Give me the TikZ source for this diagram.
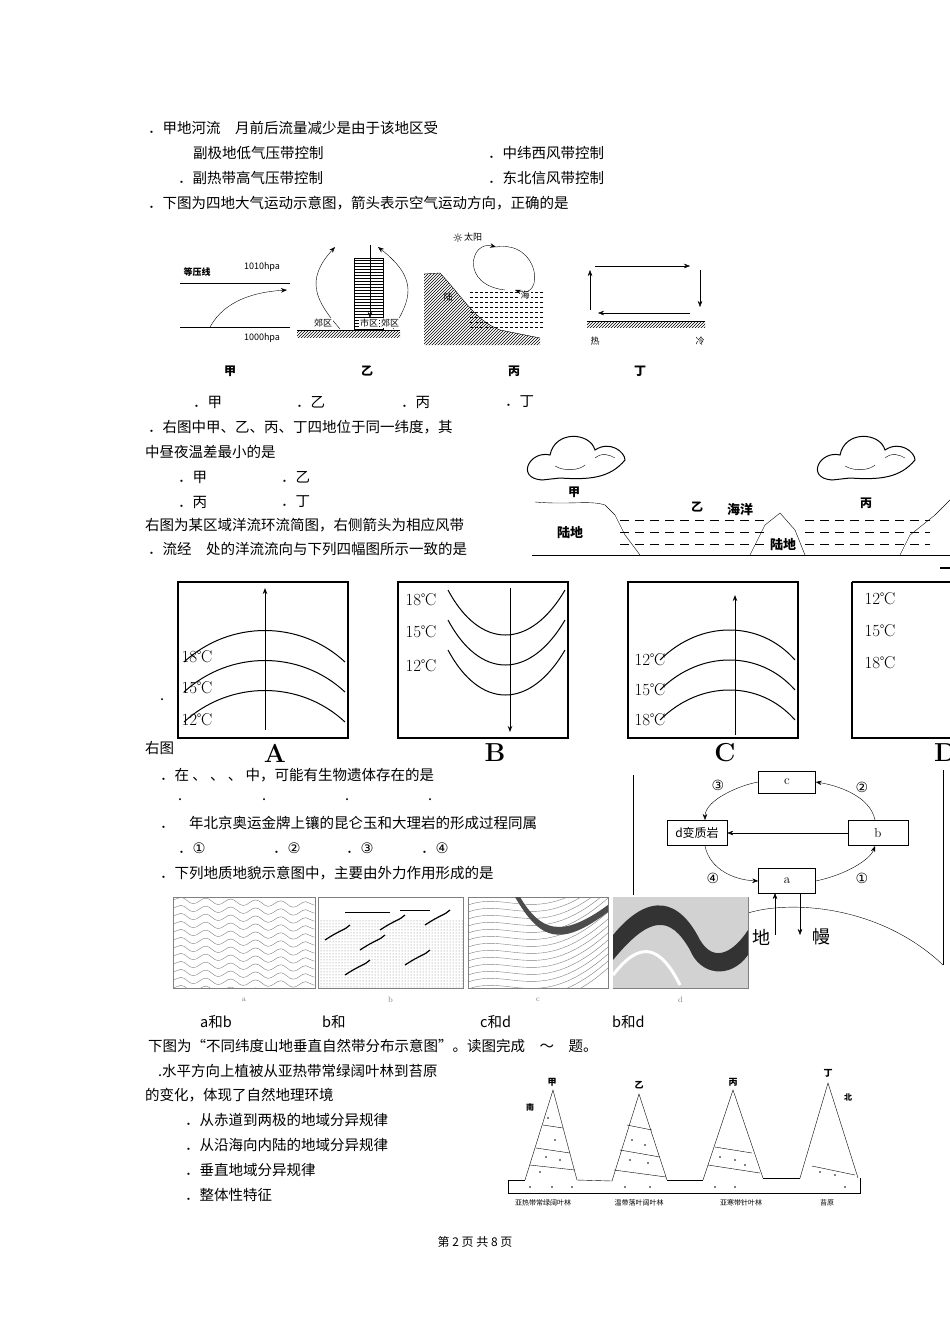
\documentclass[tikz,border=0pt]{standalone}
\usepackage{fontspec}
\newfontfamily\cjk{Noto Sans CJK SC}
\newfontfamily\djv{DejaVu Sans}
\usetikzlibrary{patterns,arrows.meta,decorations.pathmorphing}
\begin{document}
\begin{tikzpicture}[x=1pt,y=-1pt,
  tx/.style={anchor=west,inner sep=0pt,font=\cjk\fontsize{14.5}{16}\selectfont},
  sm/.style={inner sep=0pt,font=\cjk\fontsize{9}{10}\selectfont},
  lab/.style={inner sep=0pt,font=\cjk\bfseries\fontsize{12}{13}\selectfont},
  frame/.style={draw,line width=1.6pt},
  ar/.style={-{Stealth[length=6pt]}},
  circ/.style={inner sep=0pt,font=\djv\fontsize{14}{16}\selectfont},
  deg/.style={inner sep=0pt,font=\fontsize{17}{18}\selectfont}]
\useasboundingbox[fill=white] (0,0) rectangle (950,1344);
% ---- text lines
\node[tx] (l1) at (148,128) {．甲地河流\quad 月前后流量减少是由于该地区受};
\node[tx] (l2) at (193,153) {副极地低气压带控制};
\node[tx] (l2b) at (488,153) {．中纬西风带控制};
\node[tx] (l3) at (178,178) {．副热带高气压带控制};
\node[tx] (l3b) at (488,178) {．东北信风带控制};
\node[tx] (l4) at (148,203) {．下图为四地大气运动示意图，箭头表示空气运动方向，正确的是};
\node[tx] (o1) at (193,402) {．甲};
\node[tx] (o2) at (296,402) {．乙};
\node[tx] (o3) at (401,402) {．丙};
\node[tx] (o4) at (505,402) {．丁};
\node[tx] (l5) at (148,427) {．右图中甲、乙、丙、丁四地位于同一纬度，其};
\node[tx] (l6) at (145,452) {中昼夜温差最小的是};
\node[tx] (p1) at (178,477) {．甲};
\node[tx] (p2) at (281,477) {．乙};
\node[tx] (p3) at (178,502) {．丙};
\node[tx] (p4) at (281,502) {．丁};
\node[tx] (l7) at (145,525) {右图为某区域洋流环流简图，右侧箭头为相应风带};
\node[tx] (l8) at (148,549) {．流经\quad 处的洋流流向与下列四幅图所示一致的是};
\node[tx] (l9) at (160,700) {.};
\node[tx] (l10) at (145,748) {右图};
\node[tx] (l11) at (160,775) {．在\ 、\ 、\ 、\ 中，可能有生物遗体存在的是};
\node[tx] (q1) at (178,800) {.}; \node[tx] (q2) at (262,800) {.};
\node[tx] (q3) at (345,800) {.}; \node[tx] (q4) at (428,800) {.};
\node[tx] (l12) at (160,823) {．\quad 年北京奥运金牌上镶的昆仑玉和大理岩的形成过程同属};
\node[tx] (r1) at (178,848) {．\djv ①}; \node[tx] (r2) at (273,848) {．\djv ②};
\node[tx] (r3) at (346,848) {．\djv ③}; \node[tx] (r4) at (421,848) {．\djv ④};
\node[tx] (l13) at (160,873) {．下列地质地貌示意图中，主要由外力作用形成的是};
\node[tx] (s1) at (200,1022) {a和b}; \node[tx] (s2) at (322,1022) {b和};
\node[tx] (s3) at (480,1022) {c和d}; \node[tx] (s4) at (612,1022) {b和d};
\node[tx] (l14) at (148,1046) {下图为“不同纬度山地垂直自然带分布示意图”。读图完成\quad ～\quad 题。};
\node[tx] (l15) at (158,1071) {.水平方向上植被从亚热带常绿阔叶林到苔原};
\node[tx] (l16) at (145,1095) {的变化，体现了自然地理环境};
\node[tx] (u1) at (185,1120) {．从赤道到两极的地域分异规律};
\node[tx] (u2) at (185,1145) {．从沿海向内陆的地域分异规律};
\node[tx] (u3) at (185,1170) {．垂直地域分异规律};
\node[tx] (u4) at (185,1195) {．整体性特征};
\node[inner sep=0pt,font=\cjk\fontsize{12}{13}\selectfont] (pg) at (475,1242) {第 2 页 共 8 页};
% ---- 甲 diagram
\draw (180,283) -- (290,283); \draw (180,327) -- (290,327);
\node[sm,font=\cjk\bfseries\fontsize{9}{10}\selectfont] (a1) at (197,272) {等压线};
\node[sm] (a2) at (262,267) {1010hpa};
\node[sm] (a3) at (262,338) {1000hpa};
\coordinate (a4) at (210,327); \coordinate (a5) at (287,290);
\draw[ar] (a4) .. controls (225,300) and (255,292) .. (a5);
\node[lab] (jia) at (230,371) {甲};
% ---- 乙
\draw[pattern=horizontal lines] (354,258) rectangle (383,330);
\fill[pattern=north east lines] (297,330) rectangle (400,337);
\draw (297,330) -- (400,330);
\coordinate (b1) at (370,245); \coordinate (b2) at (370,318);
\draw[ar] (b1) -- (b2);
\coordinate (b3) at (340,329); \coordinate (b4) at (335,247);
\draw[ar] (b3) .. controls (315,300) and (305,280) .. (b4);
\coordinate (b5) at (393,329); \coordinate (b6) at (378,247);
\draw[ar] (b5) .. controls (410,300) and (420,280) .. (b6);
\node[sm,fill=white,inner sep=1pt] (b7) at (323,323) {郊区};
\node[sm,fill=white,inner sep=1pt] (b8) at (369,323) {市区};
\node[sm,fill=white,inner sep=1pt] (b9) at (390,323) {郊区};
\node[lab] (yi) at (367,371) {乙};
% ---- 丙
\fill[pattern=north east lines] (424,274) -- (440,273) .. controls (465,300) and (475,320) .. (500,330) -- (540,338) -- (540,345) -- (424,345) -- cycle;
\draw (424,274) -- (440,273) .. controls (465,300) and (475,320) .. (500,330) -- (540,338);
\foreach \yy in {292,297,302,307,312,317,322,327}{\draw[densely dashed,line width=0.4pt] (470,\yy) -- (543,\yy);}
\node[inner sep=0pt,font=\djv\fontsize{12}{12}\selectfont] (c1) at (458,238) {☼};
\node[sm] (c2) at (473,237) {太阳};
\node[sm] (c3) at (448,297) {陆};
\node[sm,fill=white,inner sep=1pt] (c4) at (525,295) {海};
\coordinate (c5) at (515,290); \coordinate (c6) at (496,247);
\draw[ar] (c6) .. controls (540,240) and (545,300) .. (c5);
\draw[ar] (505,290) .. controls (460,285) and (470,240) .. (c6);
\node[lab] (bing) at (514,371) {丙};
% ---- 丁
\draw[ar] (595,266) -- (690,266);
\draw[ar] (700,270) -- (700,307);
\draw[ar] (690,313) -- (598,313);
\draw[ar] (590,310) -- (590,270);
\draw (587,321) -- (705,321);
\fill[pattern=north east lines] (587,321) rectangle (705,327);
\node[sm] (d1) at (595,341) {热}; \node[sm] (d2) at (700,341) {冷};
\node[lab] (ding) at (640,371) {丁};
% ---- ocean profile
\foreach \cx in {530,820}{
 \draw[line width=1pt] (\cx+12,480) .. controls (\cx-15,478) and (\cx+0,450) .. (\cx+20,455) .. controls (\cx+25,430) and (\cx+60,432) .. (\cx+65,450) .. controls (\cx+80,440) and (\cx+95,452) .. (\cx+95,460) .. controls (\cx+80,478) and (\cx+60,480) .. (\cx+30,478) -- cycle;
 \draw (\cx+25,466) .. controls (\cx+35,472) and (\cx+50,470) .. (\cx+55,465);
 \draw (\cx+65,458) .. controls (\cx+72,452) and (\cx+80,455) .. (\cx+85,458);}
\draw (532,555) -- (950,555);
\draw (535,502) .. controls (570,505) and (590,500) .. (605,505) -- (615,515) -- (625,535) -- (640,555);
\draw (750,555) -- (765,525) -- (780,513) -- (795,530) -- (805,555);
\draw (900,555) -- (910,535) -- (935,515) -- (950,500);
\foreach \yy in {520,532,544}{\draw[dash pattern=on 9pt off 6pt,line width=0.8pt] (620,\yy) -- (770,\yy); \draw[dash pattern=on 9pt off 6pt,line width=0.8pt] (805,\yy) -- (930,\yy);}
\node[lab] (e1) at (574,492) {甲};
\node[lab] (e2) at (697,507) {乙};
\node[lab,font=\cjk\bfseries\fontsize{13}{14}\selectfont] (e3) at (740,510) {海洋};
\node[lab] (e4) at (866,503) {丙};
\node[lab,font=\cjk\bfseries\fontsize{13}{14}\selectfont] (e5) at (570,533) {陆地};
\node[lab,font=\cjk\bfseries\fontsize{13}{14}\selectfont] (e6) at (783,545) {陆地};
% ---- isotherm boxes
\foreach \bx/\nm in {178/A,398/B,628/C}{
 \draw[frame] (\bx,582) rectangle (\bx+170,738);
 \node[inner sep=0pt,font=\bfseries\fontsize{26}{28}\selectfont] (L\nm) at (\bx+97,753) {\nm};}
\draw[frame] (852,582) -- (950,582) (852,582) -- (852,738) -- (950,738);
\node[anchor=west,inner sep=0pt,font=\bfseries\fontsize{26}{28}\selectfont] (LD) at (934,753) {D};
\foreach \dy in {0,30,60}{\draw[line width=1pt] (184,662+\dy) .. controls (230,620+\dy) and (300,620+\dy) .. (345,662+\dy);}
\draw[ar,line width=1pt] (265,730) -- (265,588);
\node[deg] (A1) at (197,657) {18℃}; \node[deg] (A2) at (197,688) {15℃}; \node[deg] (A3) at (197,720) {12℃};
\foreach \dy in {0,30,60}{\draw[line width=1pt] (448,590+\dy) .. controls (480,650+\dy) and (530,650+\dy) .. (565,590+\dy);}
\draw[ar,line width=1pt] (510,588) -- (510,732);
\node[deg] (B1) at (421,600) {18℃}; \node[deg] (B2) at (421,632) {15℃}; \node[deg] (B3) at (421,666) {12℃};
\foreach \dy in {0,30,60}{\draw[line width=1pt] (660,660+\dy) .. controls (700,620+\dy) and (760,620+\dy) .. (795,660+\dy);}
\draw[ar,line width=1pt] (735,735) -- (735,595);
\node[deg] (C1) at (650,660) {12℃}; \node[deg] (C2) at (650,690) {15℃}; \node[deg] (C3) at (650,720) {18℃};
\node[deg] (D1) at (880,599) {12℃}; \node[deg] (D2) at (880,631) {15℃}; \node[deg] (D3) at (880,663) {18℃};
\draw[line width=1.2pt] (940,568) -- (950,568);
% ---- rock cycle
\draw[line width=1pt] (633,775) -- (633,895);
\draw[line width=1pt] (943,770) -- (943,965);
\draw (748,913) .. controls (790,900) and (880,905) .. (943,965);
\node[draw,minimum width=57pt,minimum height=22pt,inner sep=0pt,font=\fontsize{13}{14}\selectfont] (rc) at (787,782) {c};
\node[draw,minimum width=60pt,minimum height=25pt,inner sep=0pt,font=\cjk\fontsize{12}{14}\selectfont] (rd) at (697,833) {d变质岩};
\node[draw,minimum width=60pt,minimum height=25pt,inner sep=0pt,font=\fontsize{13}{14}\selectfont] (rb) at (878,833) {b};
\node[draw,minimum width=57pt,minimum height=25pt,inner sep=0pt,font=\fontsize{13}{14}\selectfont] (ra) at (787,881) {a};
\draw[ar] (ra.east) .. controls (845,875) and (870,860) .. (875,846);
\draw[ar] (875,820) .. controls (870,795) and (835,785) .. (rc.east);
\draw[ar] (rc.west) .. controls (740,785) and (705,800) .. (705,820);
\draw[ar] (705,846) .. controls (710,870) and (735,880) .. (ra.west);
\draw[ar] (rb.west) -- (rd.east);
\draw[ar] (775,935) -- (775,893); \draw[ar] (800,893) -- (800,935);
\node[circ] (n3) at (718,785) {③};
\node[circ] (n2) at (862,787) {②};
\node[circ] (n4) at (713,878) {④};
\node[circ] (n1) at (862,878) {①};
\node[tx,font=\cjk\fontsize{18}{18}\selectfont] (r5) at (752,937) {地};
\node[tx,font=\cjk\fontsize{18}{18}\selectfont] (r6) at (812,937) {幔};
% ---- geology images
\foreach \gx/\gw/\nm in {173/142/a,318/145/b,468/140/c,613/135/d}{
 \draw[gray] (\gx,897) rectangle (\gx+\gw,988);
 \node[inner sep=0pt,font=\fontsize{8}{9}\selectfont,gray] (g\nm) at (\gx+\gw/2,1000) {\nm};}
\begin{scope}
\clip (173,897) rectangle (315,988);
\foreach \k in {0,8,...,88}{\draw[gray,decorate,decoration={snake,amplitude=3pt,segment length=25pt}] (173,900+\k) -- (315,905+\k);}
\end{scope}
\begin{scope}
\clip (318,897) rectangle (463,988);
\fill[pattern=dots,pattern color=gray] (318,920) rectangle (463,988);
\foreach \px/\py in {340/940,395/930,440/925,360/975,420/965,375/950}{\draw[line width=1.2pt] (\px-15,\py) .. controls (\px,\py-10) and (\px+5,\py-10) .. (\px+10,\py-15);}
\draw (345,912) -- (390,912); \draw (400,910) -- (430,910);
\end{scope}
\begin{scope}
\clip (468,897) rectangle (608,988);
\foreach \k in {0,7,...,100}{\draw[gray] (468,905+\k) .. controls (510,890+\k) and (540,930+\k) .. (608,870+\k);}
\fill[black!70] (520,897) .. controls (540,930) and (560,940) .. (608,905) -- (608,912) .. controls (560,948) and (540,940) .. (515,897) -- cycle;
\end{scope}
\begin{scope}
\clip (613,897) rectangle (748,988);
\fill[gray!35] (613,897) rectangle (748,988);
\fill[black!80] (613,935) .. controls (650,890) and (680,900) .. (700,940) .. controls (715,965) and (735,950) .. (748,930) -- (748,955) .. controls (730,980) and (700,975) .. (690,950) .. controls (670,915) and (650,915) .. (613,960) -- cycle;
\draw[white,line width=3pt] (613,975) .. controls (640,940) and (660,945) .. (680,985);
\end{scope}
% ---- mountains
\draw (508,1180) -- (508,1193) -- (860,1193) -- (860,1178);
\draw (508,1180) -- (525,1180); \draw (577,1180) -- (612,1181); \draw (667,1180) -- (703,1180); \draw (763,1178) -- (800,1178);
\draw (525,1180) -- (553,1090) -- (577,1180);
\draw (612,1181) -- (639,1094) -- (667,1180);
\draw (703,1180) -- (733,1090) -- (763,1178);
\draw (800,1178) -- (828,1083) -- (858,1178);
\draw (543,1125) -- (563,1128); \draw (536,1148) -- (570,1153); \draw (530,1165) -- (575,1170);
\draw (627,1125) -- (652,1130); \draw (620,1150) -- (660,1157); \draw (614,1170) -- (666,1177);
\draw (715,1147) -- (752,1153); \draw (708,1165) -- (760,1173);
\draw (812,1166) -- (855,1175);
\foreach \px/\py in {548/1118,555/1140,546/1157,560/1160,540/1172,552/1187,530/1187,572/1187,632/1140,645/1145,630/1160,648/1163,625/1187,650/1187,720/1157,735/1160,745/1165,715/1187,735/1187,820/1172,835/1175,845/1187}{\fill (\px,\py) circle (0.9pt);}
\node[lab,font=\cjk\bfseries\fontsize{9}{10}\selectfont] (m1) at (552,1082) {甲};
\node[lab,font=\cjk\bfseries\fontsize{9}{10}\selectfont] (m2) at (639,1085) {乙};
\node[lab,font=\cjk\bfseries\fontsize{9}{10}\selectfont] (m3) at (733,1082) {丙};
\node[lab,font=\cjk\bfseries\fontsize{9}{10}\selectfont] (m4) at (828,1073) {丁};
\node[lab,font=\cjk\bfseries\fontsize{8}{9}\selectfont] (m5) at (530,1107) {南};
\node[lab,font=\cjk\bfseries\fontsize{8}{9}\selectfont] (m6) at (848,1097) {北};
\node[sm,font=\cjk\fontsize{7}{8}\selectfont] (m7) at (543,1203) {亚热带常绿阔叶林};
\node[sm,font=\cjk\fontsize{7}{8}\selectfont] (m8) at (639,1203) {温带落叶阔叶林};
\node[sm,font=\cjk\fontsize{7}{8}\selectfont] (m9) at (741,1203) {亚寒带针叶林};
\node[sm,font=\cjk\fontsize{7}{8}\selectfont] (m10) at (827,1203) {苔原};
\end{tikzpicture}
\end{document}
